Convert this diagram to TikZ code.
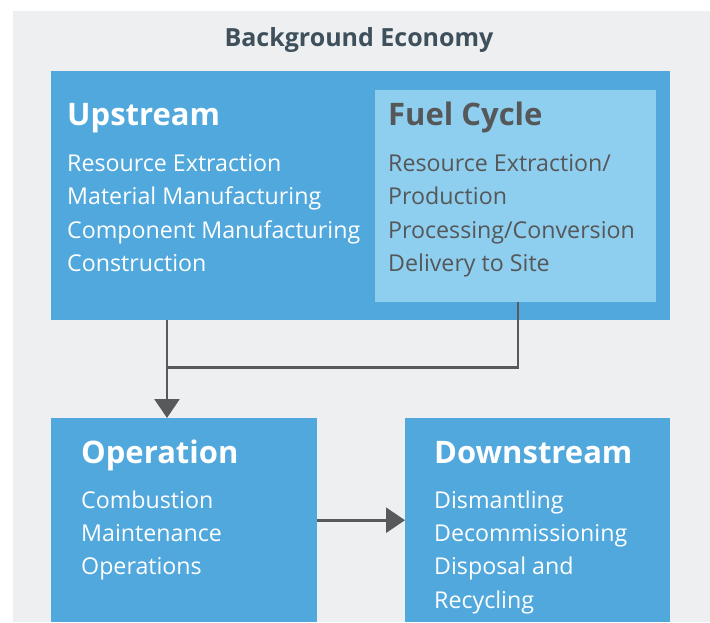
\documentclass[tikz,border=0pt]{standalone}
\usepackage{fontspec}
\setmainfont{Open Sans}
\usetikzlibrary{arrows.meta,positioning}
\definecolor{bgGrey}{HTML}{EEEFF1}
\definecolor{boxBlue}{HTML}{51A8DC}
\definecolor{fuelBlue}{HTML}{8ECEEE}
\definecolor{titleInk}{HTML}{3E505C}
\definecolor{fuelInk}{HTML}{555759}
\definecolor{linkInk}{HTML}{58595B}
\tikzset{
  box/.style={fill=boxBlue, anchor=north west, inner sep=0pt},
  fuelbox/.style={fill=fuelBlue, anchor=north west, inner sep=0pt},
  head/.style={anchor=base west, inner sep=0pt, font=\bfseries\fontsize{31}{31}\selectfont, text=white},
  item/.style={anchor=base west, inner sep=0pt, font=\fontsize{23.2}{23.2}\selectfont, text=white},
  link/.style={draw=linkInk, line width=2.6pt},
  flow/.style={link, -{Triangle[width=25pt,length=19pt]}}
}
\begin{document}
\begin{tikzpicture}[x=1pt, y=-1pt]
\useasboundingbox (0,0) rectangle (710,622);
\fill[bgGrey] (13,11) rectangle (710,622);
\node[anchor=base, inner sep=0pt, text=titleInk, font=\bfseries\fontsize{25}{25}\selectfont] (bg) at (359,46) {Background Economy};
% boxes
\node[box, minimum width=619pt, minimum height=249pt] (up) at (51,71) {};
\node[fuelbox, minimum width=281pt, minimum height=211.5pt] (fuel) at (375,90) {};
\node[box, minimum width=266pt, minimum height=204pt] (op) at (51,418) {};
\node[box, minimum width=265pt, minimum height=204pt] (down) at (405,418) {};
% upstream
\node[head] (upT) at (67,125) {Upstream};
\foreach \t [count=\i] in {Resource Extraction, Material Manufacturing, Component Manufacturing, Construction}
  \node[item] (up\i) at (67,{171.7+33.2*(\i-1)}) {\t};
% fuel cycle
\node[head, text=fuelInk] (fuelT) at (388,125) {Fuel Cycle};
\foreach \t [count=\i] in {Resource Extraction/, Production, Processing/Conversion, Delivery to Site}
  \node[item, text=fuelInk] (fuel\i) at (388,{171.7+33.2*(\i-1)}) {\t};
% operation
\node[head] (opT) at (81,463) {Operation};
\foreach \t [count=\i] in {Combustion, Maintenance, Operations}
  \node[item] (op\i) at (81,{508.5+33.2*(\i-1)}) {\t};
% downstream
\node[head] (downT) at (434,463) {Downstream};
\foreach \t [count=\i] in {Dismantling, Decommissioning, Disposal and, Recycling}
  \node[item] (down\i) at (434,{508.5+33.2*(\i-1)}) {\t};
% connectors
\coordinate (upout) at ([xshift=116pt]up.south west);
\coordinate (fuelout) at ([xshift=143pt]fuel.south west);
\draw[link] (fuelout) -- ++(0,65.5) -| (upout);
\draw[flow] (upout) -- (upout |- op.north);
\draw[flow] (op.east) -- (down.west);
\end{tikzpicture}
\end{document}
